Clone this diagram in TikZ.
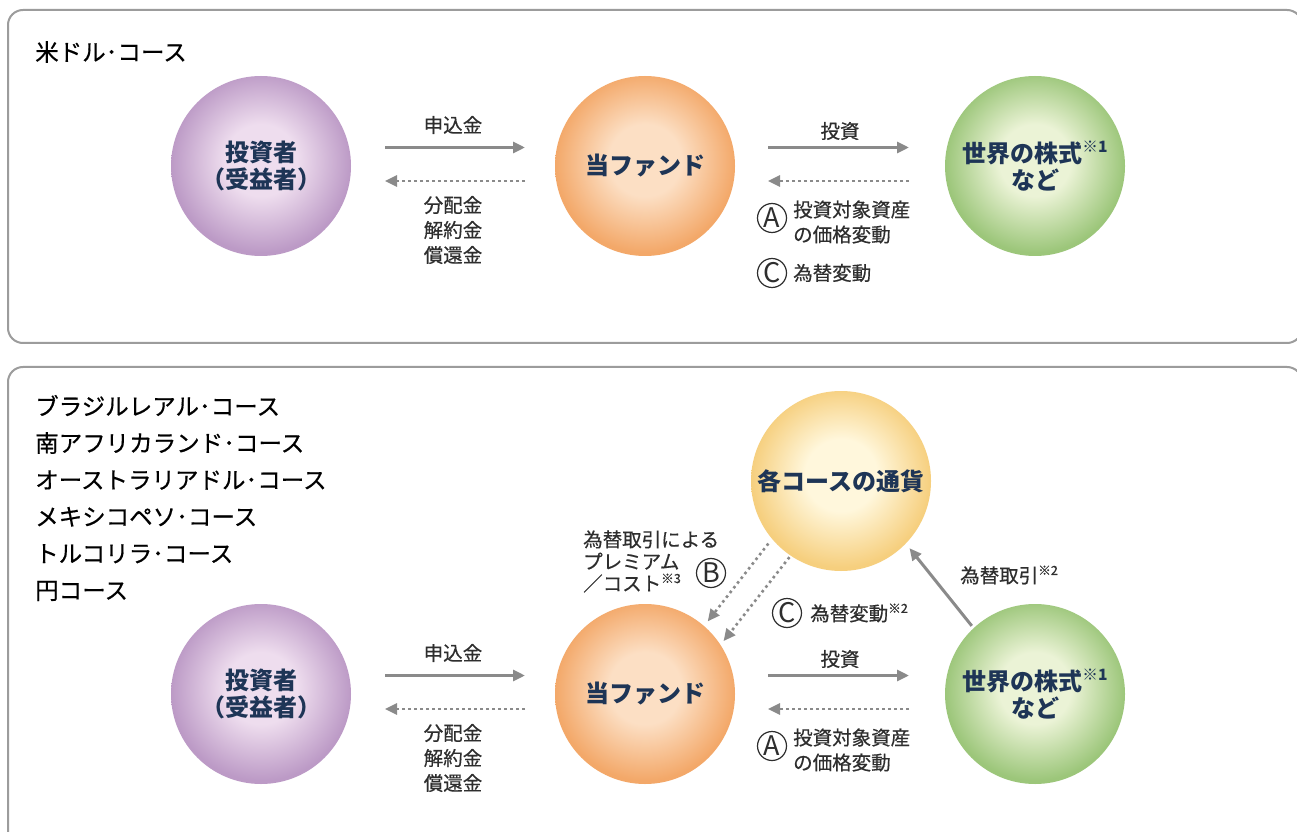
\documentclass[tikz,border=0pt]{standalone}
\usepackage{xcolor}
\usepackage{graphicx}
\usepackage{tikz}
\usepackage{fontspec}
\setmainfont{Noto Sans CJK JP}
\setsansfont{Noto Sans CJK JP}
\newfontfamily\jpmed{Noto Sans CJK JP}[FakeBold=0.5]
\usetikzlibrary{arrows.meta,calc}

\definecolor{boxgray}{HTML}{9C9C9C}
\definecolor{arrgray}{HTML}{8A8A8A}
\definecolor{navy}{HTML}{1E3556}
\definecolor{txt}{HTML}{2E2E2E}
\definecolor{invin}{HTML}{EEDDEE}
\definecolor{invout}{HTML}{BC9AC6}
\definecolor{fundin}{HTML}{FCDFC4}
\definecolor{fundout}{HTML}{F3A869}
\definecolor{worldin}{HTML}{EBF3D6}
\definecolor{worldout}{HTML}{9CC67A}
\definecolor{curin}{HTML}{FFF7DC}
\definecolor{curout}{HTML}{F6CF7E}

\pgfdeclareradialshading{invball}{\pgfpoint{0bp}{2bp}}{color(0bp)=(invin); color(10bp)=(invin); color(25bp)=(invout); color(50bp)=(invout)}
\pgfdeclareradialshading{fundball}{\pgfpoint{0bp}{2bp}}{color(0bp)=(fundin); color(10bp)=(fundin); color(25bp)=(fundout); color(50bp)=(fundout)}
\pgfdeclareradialshading{worldball}{\pgfpoint{0bp}{2bp}}{color(0bp)=(worldin); color(10bp)=(worldin); color(25bp)=(worldout); color(50bp)=(worldout)}
\pgfdeclareradialshading{curball}{\pgfpoint{0bp}{2bp}}{color(0bp)=(curin); color(10bp)=(curin); color(25bp)=(curout); color(50bp)=(curout)}

\newcommand\chuki[1]{\raisebox{.4em}{\scalebox{.65}{※#1}}}

\begin{document}
\begin{tikzpicture}[x=1pt,y=1pt,
    panel/.style={draw=boxgray,line width=2pt,rounded corners=15pt},
    ball/.style={circle,minimum size=180pt,inner sep=0pt,outer sep=0pt,align=center,
      text=navy,font=\fontsize{24}{27}\selectfont\bfseries},
    ttl/.style={anchor=west,align=left,inner sep=0pt,font=\jpmed\fontsize{23.5}{36.8}\selectfont},
    lbl/.style={inner sep=0pt,text=txt,font=\jpmed\fontsize{19.5}{25}\selectfont},
    letterc/.style={circle,draw=txt,line width=1.2pt,minimum size=29pt,inner sep=0pt,
      text=txt,font=\fontsize{27}{27}\selectfont},
    flow/.style={draw=arrgray,line width=3pt,-{Triangle[length=12pt,width=11pt]}},
    back/.style={flow,line width=2.6pt,dash pattern=on 2.6pt off 3.4pt}]
  \path[use as bounding box,fill=white] (0,0) rectangle (1297,831);
  % panels
  \draw[panel] (8,488) rectangle (1302,821);
  \draw[panel] (8,-30) rectangle (1302,464);
  \node[ttl] (usd) at (35,779) {米ドル･コース};
  \node[ttl] (others) at (35,333) {ブラジルレアル･コース\\南アフリカランド･コース\\
    オーストラリアドル･コース\\メキシコペソ･コース\\トルコリラ･コース\\円コース};
  % both rows
  \foreach \r/\y in {1/665,2/137}
  {
    \node[ball,shading=invball] (inv\r) at (261,\y) {投資者\\（受益者）};
    \node[ball,shading=fundball] (fund\r) at (645,\y) {当ファンド};
    \node[ball,shading=worldball] (world\r) at (1035,\y) {世界の株式\chuki{1}\\など};
    \draw[flow,shorten <=34pt,shorten >=30pt]
      ([yshift=18.5pt]inv\r.east) -- ([yshift=18.5pt]fund\r.west);
    \draw[back,shorten <=30pt,shorten >=34pt]
      ([yshift=-15pt]fund\r.west) -- ([yshift=-15pt]inv\r.east);
    \draw[flow,shorten <=33pt,shorten >=36pt]
      ([yshift=18.5pt]fund\r.east) -- ([yshift=18.5pt]world\r.west);
    \draw[back,shorten <=36pt,shorten >=33pt]
      ([yshift=-15pt]world\r.west) -- ([yshift=-15pt]fund\r.east);
    \node[lbl] (pay\r) at ($(inv\r.east)!0.5!(fund\r.west)+(0,41)$) {申込金};
    \node[lbl,align=center] (ret\r) at ($(inv\r.east)!0.5!(fund\r.west)+(0,-64)$)
      {分配金\\解約金\\償還金};
    \node[lbl] (inv\r lbl) at ($(fund\r.east)!0.5!(world\r.west)+(0,35)$) {投資};
    \node[letterc] (a\r) at ([xshift=37pt,yshift=-52pt]fund\r.east) {A};
    \node[lbl,align=left,anchor=west] (adesc\r) at ([xshift=58pt,yshift=-56pt]fund\r.east)
      {投資対象資産\\の価格変動};
  }
  % top row: currency
  \node[letterc] (c1) at (772,558) {C};
  \node[lbl,anchor=west] (cdesc1) at (793,558) {為替変動};
  % bottom row: course currency
  \node[ball,shading=curball] (cur) at (841,350) {各コースの通貨};
  \draw[back,shorten <=6pt,shorten >=6pt] (cur.220) -- (fund2.49);
  \draw[back,shorten <=2pt,shorten >=5pt] (cur.236) -- (fund2.33);
  \draw[flow,shorten <=3pt,shorten >=6pt] (world2.133) -- (cur.316);
  \node[letterc] (b2) at (711,258) {B};
  \node[lbl,align=left,anchor=west,font=\jpmed\fontsize{19.5}{22}\selectfont] (bdesc2) at (583,269.5)
    {為替取引による\\プレミアム\\／コスト\chuki{3}};
  \node[letterc] (c2) at (787,218) {C};
  \node[lbl,anchor=west] (cdesc2) at (810,218) {為替変動\chuki{2}};
  \node[lbl,anchor=west] (fx2) at (960,256) {為替取引\chuki{2}};
\end{tikzpicture}
\end{document}
